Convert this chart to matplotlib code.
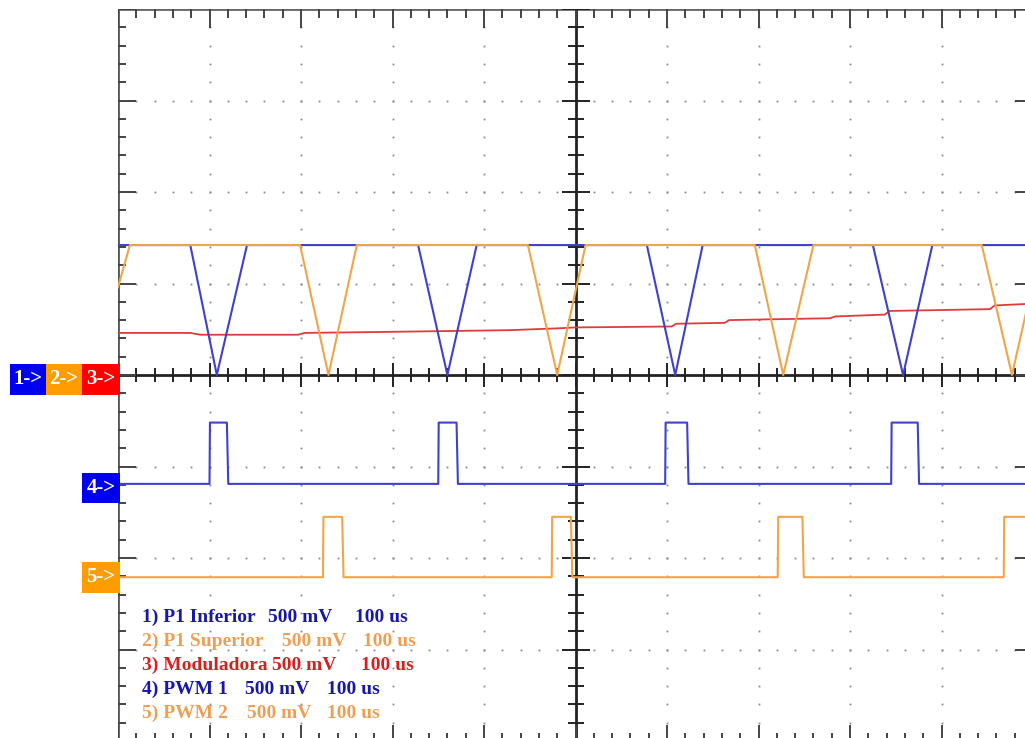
import matplotlib
matplotlib.use("Agg")
import matplotlib.pyplot as plt
from matplotlib.collections import LineCollection
from matplotlib.patches import Rectangle
import numpy as np

# ---------------- data (in screen divisions; 100 us/div, 500 mV/div) ----------------
# Channel 1: P1 Inferior (triangle carrier, clipped at top)
ch1_x = [0.00, 0.79, 1.08, 1.41, 3.28, 3.60, 3.92, 5.78, 6.09, 6.39, 8.25, 8.58, 8.90, 10.00]
ch1_y = [1.42, 1.42, 0.00, 1.42, 1.42, 0.00, 1.42, 1.42, 0.00, 1.42, 1.42, 0.00, 1.42, 1.42]
# Channel 2: P1 Superior
ch2_x = [0.00, 0.13, 1.99, 2.30, 2.61, 4.48, 4.80, 5.11, 6.96, 7.27, 7.60, 9.44, 9.77, 10.00]
ch2_y = [0.96, 1.42, 1.42, 0.00, 1.42, 1.42, 0.00, 1.42, 1.42, 0.00, 1.42, 1.42, 0.00, 1.02]
# Channel 3: Moduladora (slow staircase ramp)
ch3_x = [0.00, 0.79, 0.90, 1.97, 2.04, 2.86, 4.28, 4.81, 5.00, 6.05, 6.10, 6.63, 6.68,
         7.20, 7.78, 7.84, 8.38, 8.43, 9.00, 9.53, 9.58, 10.00]
ch3_y = [0.46, 0.46, 0.44, 0.44, 0.46, 0.47, 0.49, 0.51, 0.52, 0.53, 0.56, 0.57, 0.60,
         0.61, 0.62, 0.64, 0.66, 0.70, 0.71, 0.72, 0.76, 0.78]
# Channel 4: PWM 1
ch4_rise = [1.00, 3.50, 5.98, 8.45]
ch4_fall = [1.19, 3.70, 6.22, 8.74]
ch4_low, ch4_high = -1.19, -0.52
# Channel 5: PWM 2
ch5_rise = [2.24, 4.74, 7.21, 9.68]
ch5_fall = [2.45, 4.95, 7.48, 10.30]
ch5_low, ch5_high = -2.21, -1.55

legend_names = ["1) P1 Inferior", "2) P1 Superior", "3) Moduladora", "4) PWM 1", "5) PWM 2"]
legend_volts = ["500 mV"] * 5
legend_time = ["100 us"] * 5
channel_tags = ["1->", "2->", "3->", "4->", "5->"]

# ---------------- styling ----------------
W, H = 1025, 738
PX = 91.5  # pixels per division
c_blue = "#4040d0"
c_orange = "#f2a448"
c_red = "#e23a3a"
t_blue = "#1818a8"
t_orange = "#eda055"
t_red = "#d42020"
box_cols = ["#0000f0", "#ff9c00", "#ff0000", "#0000f0", "#ff9c00"]

fig = plt.figure(figsize=(W / 100, H / 100), dpi=100)
fig.patch.set_facecolor("white")
left, top_px, bottom_px = 118, 9, 741
ax = fig.add_axes([left / W, (H - bottom_px) / H, 10 * PX / W, (bottom_px - top_px) / H])
ax.set_xlim(0, 10)
ax.set_ylim(-4, 4)
ax.axis("off")

# dotted graticule
dot_x, dot_y = [], []
minor = np.round(np.arange(0, 50.001) * 0.2, 3)
minor_y = np.round(np.arange(0, 40.001) * 0.2 - 4, 3)
for gx in [1, 2, 3, 4, 6, 7, 8, 9]:
    for yy in minor_y:
        dot_x.append(gx); dot_y.append(yy)
for gy in [-3, -2, -1, 1, 2, 3]:
    for xx in minor:
        dot_x.append(xx); dot_y.append(gy)
ax.plot(dot_x, dot_y, ls="none", marker="s", ms=1.3, mec="none", mfc="#8a8a8a", zorder=1)

# frame and centre axes
segs, lws, cols = [], [], []
def seg(a, b, lw=1.2, col="#333333"):
    segs.append([a, b]); lws.append(lw); cols.append(col)

seg((0, -4), (0, 4), 2.0, "#555555")
seg((0, 4), (10, 4), 2.0, "#666666")
seg((10, -4), (10, 4), 2.0, "#555555")
seg((0, -4), (10, -4), 2.0, "#555555")
seg((0, 0), (10, 0), 2.0, "#222222")
seg((5, -4), (5, 4), 2.0, "#222222")

def d(px):
    return px / PX

for xx in minor:
    major = abs(xx - round(xx)) < 1e-6
    seg((xx, 4), (xx, 4 - d(19 if major else 9)), 1.4, "#444444")
    seg((xx, -4), (xx, -4 + d(16 if major else 8)), 1.4, "#444444")
    L = d(12 if major else 7)
    seg((xx, -L), (xx, L), 1.4, "#222222")
for yy in minor_y:
    major = abs(yy - round(yy)) < 1e-6
    seg((0, yy), (d(18 if major else 8), yy), 1.4, "#444444")
    seg((10, yy), (10 - d(18 if major else 8), yy), 1.4, "#444444")
    L = d(14 if major else 8)
    seg((5 - L, yy), (5 + L, yy), 1.4, "#222222")
ax.add_collection(LineCollection(segs, linewidths=lws, colors=cols, zorder=2))

# traces
def pulses(rise, fall, lo, hi):
    xs, ys = [0.0], [lo]
    for r, f in zip(rise, fall):
        xs += [r, r + 0.005, f, f + 0.015]
        ys += [lo, hi, hi, lo]
    xs.append(10.3); ys.append(lo)
    return xs, ys

ax.plot(ch3_x, ch3_y, color=c_red, lw=1.3, zorder=3)
ax.plot(ch1_x, ch1_y, color=c_blue, lw=1.5, zorder=4)
ax.plot(ch2_x, ch2_y, color=c_orange, lw=1.5, zorder=4)
x4, y4 = pulses(ch4_rise, ch4_fall, ch4_low, ch4_high)
ax.plot(x4, y4, color=c_blue, lw=1.5, zorder=4)
x5, y5 = pulses(ch5_rise, ch5_fall, ch5_low, ch5_high)
ax.plot(x5, y5, color=c_orange, lw=1.5, zorder=4)

# legend text (pixel positions of each piece)
serif = ["Liberation Serif", "DejaVu Serif"]
leg_cols = [t_blue, t_orange, t_red, t_blue, t_orange]
base_y = [622, 646, 670, 694, 718]
volt_x = [268, 282, 272, 245, 247]
time_x = [355, 363, 361, 327, 327]
for i in range(5):
    yb = (H - base_y[i]) / H
    for txt, xp in [(legend_names[i], 142), (legend_volts[i], volt_x[i]), (legend_time[i], time_x[i])]:
        fig.text(xp / W, yb, txt, color=leg_cols[i], fontsize=14, fontweight="bold",
                 family=serif, ha="left", va="baseline")

# channel tags at the left
tag_boxes = [(10, 364, 36, 31), (46, 364, 36, 31), (82, 364, 38, 31), (82, 473, 38, 30), (82, 562, 38, 31)]
for (bx, by, bw, bh), tag, col in zip(tag_boxes, channel_tags, box_cols):
    fig.add_artist(Rectangle((bx / W, (H - by - bh) / H), bw / W, bh / H,
                             transform=fig.transFigure, facecolor=col, edgecolor="none", zorder=5))
    fig.text((bx + bw / 2) / W, (H - by - bh / 2) / H, tag, color="white", fontsize=15,
             fontweight="bold", family=serif, ha="center", va="center", zorder=6)

fig.savefig("out.png", dpi=100)
